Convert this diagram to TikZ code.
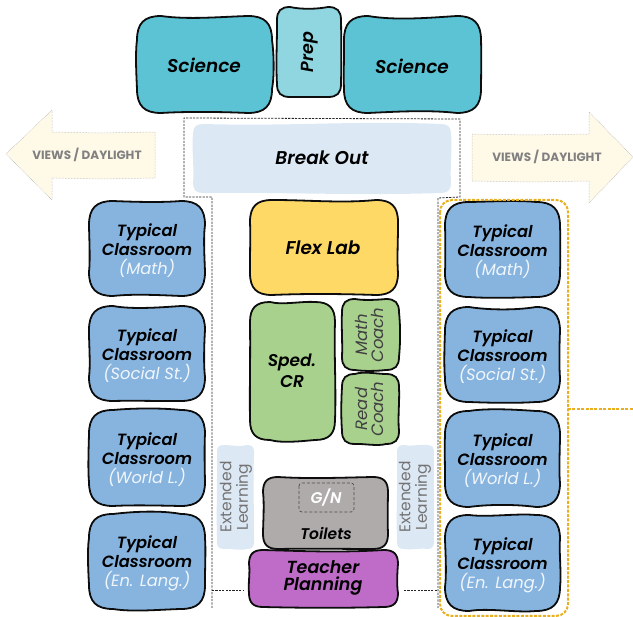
\documentclass[tikz,border=0pt]{standalone}
\usepackage{fontspec}
\setmainfont{Poppins}
\newfontfamily\hdfont{Poppins SemiBold}
\usetikzlibrary{calc}
\definecolor{sci}{HTML}{5BC3D3}
\definecolor{prep}{HTML}{8FD6E0}
\definecolor{pale}{HTML}{DDE8F5}
\definecolor{cls}{HTML}{87B4DF}
\definecolor{flex}{HTML}{FFD966}
\definecolor{grn}{HTML}{A9D18E}
\definecolor{toil}{HTML}{AFABAB}
\definecolor{plan}{HTML}{BF6BC8}
\definecolor{cream}{HTML}{FFF9E8}
\definecolor{gold}{HTML}{E8B020}
\definecolor{edge}{HTML}{0D0D0D}
\tikzset{
  x=1pt,y=-1pt,
  wobline/.style={draw=edge,line width=1.8pt,line join=round},
  label/.style={inner sep=0pt,align=center,font=\hdfont\itshape\fontsize{18.5}{19}\selectfont,text=black},
  room label/.style={label,font=\hdfont\itshape\fontsize{16.3}{19}\selectfont},
  thin label/.style={inner sep=0pt,align=center,rotate=90,font=\itshape\fontsize{16.5}{16}\selectfont,text=black!75},
  ext label/.style={inner sep=0pt,align=center,rotate=90,font=\fontsize{15.5}{16.5}\selectfont,text=black!55},
  view label/.style={inner sep=0pt,font=\bfseries\fontsize{12}{14}\selectfont,text=black!50},
  plan line/.style={draw=black!85,line width=.8pt,dash pattern=on 2.2pt off 1.2pt},
  gold line/.style={draw=gold,line width=2pt,dash pattern=on 3pt off 1.4pt},
}
\newcommand\subj[1]{{\fontseries{m}\normalfont\itshape\color{white!88!cls}#1}}
% x1 y1 x2 y2 radius amplitude tikz-options
\newcommand\wob[7]{%
  \pgfmathsetmacro\wA{#6*(2*rnd-1)}\pgfmathsetmacro\wB{#6*(2*rnd-1)}%
  \pgfmathsetmacro\wC{#6*(rnd-.5)}\pgfmathsetmacro\wD{#6*(rnd-.5)}%
  \pgfmathsetmacro\wE{#6*(2*rnd-1)}\pgfmathsetmacro\wF{#6*(2*rnd-1)}%
  \pgfmathsetmacro\wG{#6*(rnd-.5)}\pgfmathsetmacro\wH{#6*(rnd-.5)}%
  \pgfmathsetmacro\wR{#5*.3}%
  \path[#7]
   ({#1+#5},#2) .. controls ({#1+(#3-#1)*.38},{#2+\wA}) and ({#1+(#3-#1)*.62},{#2+\wB}) .. ({#3-#5},#2)
   .. controls ({#3-\wR},#2) and (#3,{#2+\wR}) .. (#3,{#2+#5})
   .. controls ({#3+\wC},{#2+(#4-#2)*.38}) and ({#3+\wD},{#2+(#4-#2)*.62}) .. (#3,{#4-#5})
   .. controls (#3,{#4-\wR}) and ({#3-\wR},#4) .. ({#3-#5},#4)
   .. controls ({#1+(#3-#1)*.62},{#4+\wE}) and ({#1+(#3-#1)*.38},{#4+\wF}) .. ({#1+#5},#4)
   .. controls ({#1+\wR},#4) and (#1,{#4-\wR}) .. (#1,{#4-#5})
   .. controls ({#1+\wG},{#2+(#4-#2)*.62}) and ({#1+\wH},{#2+(#4-#2)*.38}) .. (#1,{#2+#5})
   .. controls (#1,{#2+\wR}) and ({#1+\wR},#2) .. ({#1+#5},#2) -- cycle;%
}
\begin{document}
\begin{tikzpicture}
\useasboundingbox (0,0) rectangle (633,617);
\pgfmathsetseed{4217}
% dashed building outline
\coordinate (o1) at (212,608); \coordinate (o2) at (212,197); \coordinate (o3) at (184,197);
\coordinate (o4) at (184,118); \coordinate (o5) at (460,119); \coordinate (o6) at (460,197);
\coordinate (o7) at (438,198); \coordinate (o8) at (438,608);
\draw[plan line] (o1)--(o2)--(o3)--(o4)--(o5)--(o6)--(o7)--(o8);
\coordinate (s1) at (212,590); \coordinate (s2) at (244,590); \coordinate (s3) at (404,590); \coordinate (s4) at (438,590);
\draw[plan line] (s1)--(s2);
\draw[plan line] (s3)--(s4);
% arrows
\path[fill=cream,draw=black!35,line width=.5pt,densely dotted] (6,154)--(52,110)--(52,132)--(100,133)--(155,132)--(155,178)--(100,179)--(52,178)--(52,200)--cycle;
\node[view label] (vl) at (87,155) {VIEWS / DAYLIGHT};
\path[fill=cream,draw=black!35,line width=.5pt,densely dotted] (633,157)--(589,112)--(589,134)--(530,135)--(472,134)--(472,181)--(530,182)--(589,181)--(589,203)--cycle;
\node[view label] (vr) at (547,157) {VIEWS / DAYLIGHT};
% boxes
\wob{137}{16}{272}{113}{24}{5}{wobline,fill=sci}
\node[label] (sci1) at (204,65) {Science};
\wob{277}{7}{341}{97}{13}{3}{wobline,fill=prep}
\node[label,rotate=90,font=\hdfont\itshape\fontsize{17.5}{19}\selectfont] (prp) at (310,52) {Prep};
\wob{344}{16}{481}{113}{24}{5}{wobline,fill=sci}
\node[label] (sci2) at (412,66) {Science};
\wob{193}{124}{451}{193}{10}{4}{fill=pale}
\node[label] (brk) at (322,158) {Break Out};
\wob{250}{200}{398}{295}{22}{4}{wobline,fill=flex}
\node[label] (flx) at (323,248) {Flex Lab};
\wob{250}{302}{335}{440}{20}{4}{wobline,fill=grn}
\node[label,font=\hdfont\itshape\fontsize{17}{20.5}\selectfont] (spd) at (292,371) {Sped.\\CR};
\wob{342}{299}{399}{370}{13}{3}{wobline,fill=grn}
\node[thin label] (mth) at (369,335) {Math\\Coach};
\wob{342}{374}{399}{444}{13}{3}{wobline,fill=grn}
\node[thin label] (rd) at (369,409) {Read\\Coach};
\wob{217}{445}{254}{549}{7}{2}{fill=pale}
\node[ext label] (e1) at (236,497) {Extended\\Learning};
\wob{397}{445}{434}{549}{7}{2}{fill=pale}
\node[ext label] (e2) at (415,497) {Extended\\Learning};
\wob{263}{477}{388}{549}{15}{3}{wobline,fill=toil}
\node[label,font=\hdfont\itshape\fontsize{15.5}{17}\selectfont] (tl) at (326,533) {Toilets};
\draw[draw=black!70,line width=.7pt,densely dashed,rounded corners=3pt] (299,483) rectangle (354,512);
\node[label,text=white,font=\hdfont\itshape\fontsize{15.5}{17}\selectfont] (gn) at (326,498) {G/N};
\wob{249}{550}{398}{607}{14}{4}{wobline,fill=plan}
\node[label,font=\hdfont\itshape\fontsize{17.5}{16.5}\selectfont] (tp) at (323,578) {Teacher\\Planning};
% classrooms
\newcommand\room[5]{%
  \wob{#1}{#2}{#3}{#4}{24}{4}{wobline,fill=cls}
  \node[room label] (#5) at ({(#1+#3)/2},{(#2+#4)/2+2}) {Typical\\Classroom\\\subj{\csname roomsubj\endcsname}};
}
\def\roomsubj{(Math)}\room{89}{201}{205}{296}{la}
\def\roomsubj{(Social St.)}\room{89}{306}{205}{401}{lb}
\def\roomsubj{(World L.)}\room{89}{410}{205}{506}{lc}
\def\roomsubj{(En. Lang.)}\room{89}{514}{205}{609}{ld}
\def\roomsubj{(Math)}\room{445}{202}{560}{297}{ra}
\def\roomsubj{(Social St.)}\room{445}{307}{560}{402}{rb}
\def\roomsubj{(World L.)}\room{445}{411}{560}{507}{rc}
\def\roomsubj{(En. Lang.)}\room{445}{515}{560}{611}{rd}
% gold outline
\draw[gold line,rounded corners=12pt] (440,200) rectangle (568,616);
\coordinate (g1) at (568,409); \coordinate (g2) at (633,409);
\draw[gold line] (g1)--(g2);
\end{tikzpicture}
\end{document}
